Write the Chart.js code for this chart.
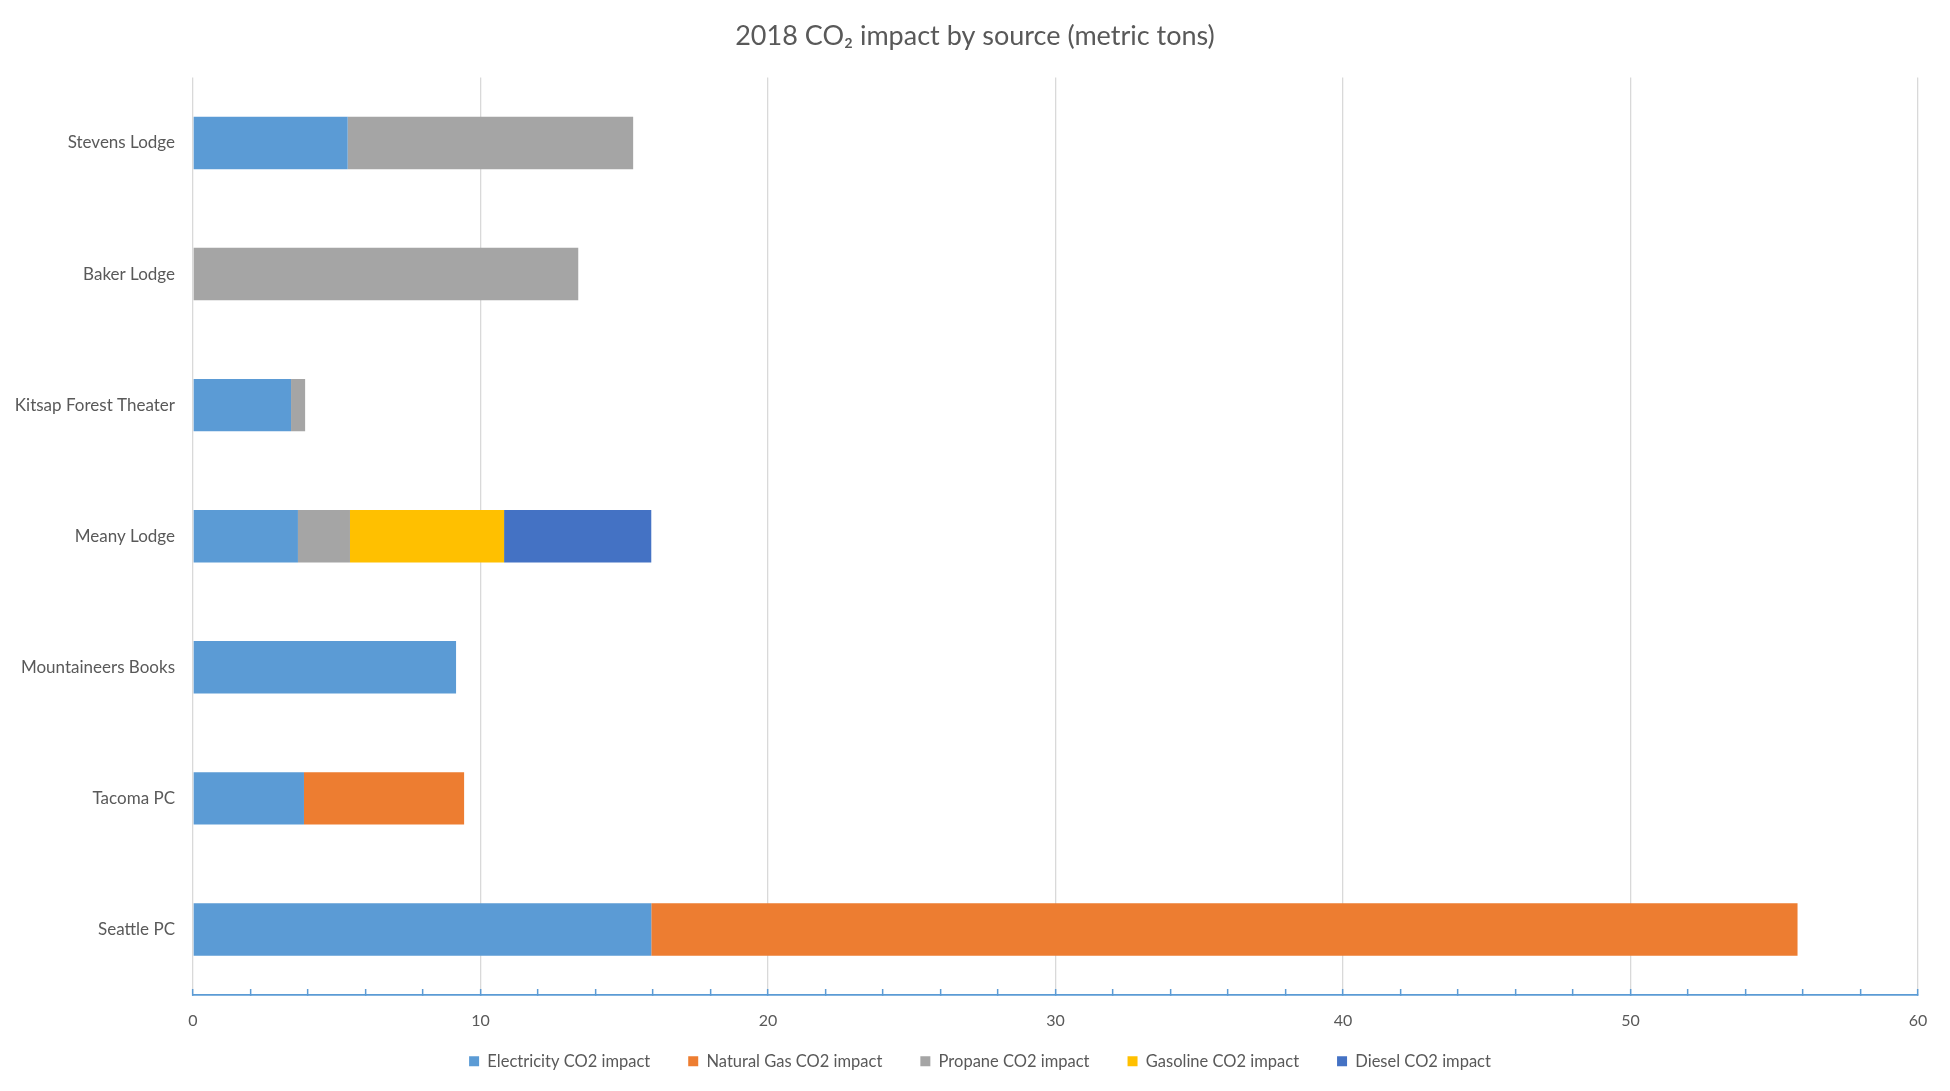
<!DOCTYPE html>
<html>
<head>
<meta charset="utf-8">
<title>2018 CO2 impact by source</title>
<script src="https://cdn.jsdelivr.net/npm/chart.js@4"></script>
<style>
  html, body { margin: 0; padding: 0; background: #fff; }
  #wrap { width: 1950px; height: 1091px; }
</style>
</head>
<body>
<div id="wrap"><canvas id="chart"></canvas></div>
<script>
// Sites, top to bottom
const sites = ['Stevens Lodge', 'Baker Lodge', 'Kitsap Forest Theater', 'Meany Lodge',
  'Mountaineers Books', 'Tacoma PC', 'Seattle PC'];

// metric tons per source
const electricity = [5.38, 0, 3.41, 3.65, 9.15, 3.86, 15.94];
const naturalGas  = [0, 0, 0, 0, 0, 5.57, 39.87];
const propane     = [9.93, 13.40, 0.49, 1.81, 0, 0, 0];
const gasoline    = [0, 0, 0, 5.36, 0, 0, 0];
const diesel      = [0, 0, 0, 5.12, 0, 0, 0];

const seriesNames = ['Electricity CO2 impact', 'Natural Gas CO2 impact', 'Propane CO2 impact',
  'Gasoline CO2 impact', 'Diesel CO2 impact'];
const seriesColors = ['#5B9BD5', '#ED7D31', '#A5A5A5', '#FFC000', '#4472C4'];
const seriesData = [electricity, naturalGas, propane, gasoline, diesel];

const textColor = '#595959';
const fontFamily = 'Lato, "Open Sans", sans-serif';

const datasets = seriesData.map((d, i) => ({
  label: seriesNames[i],
  data: d,
  backgroundColor: seriesColors[i],
  borderWidth: 0,
  barPercentage: 0.4,
  categoryPercentage: 1
}));

// Title and legend are centred on the whole canvas in the original,
// and the legend sits a bit closer to the axis labels
const nudge = {
  id: 'nudge',
  afterLayout(chart) {
    const t = chart.titleBlock;
    t.left += 16; t.right += 16;
    const l = chart.legend;
    l.left += 21; l.right += 21;
    l.top -= 20; l.bottom -= 20;
  }
};

const ctx = document.getElementById('chart').getContext('2d');
const myChart = new Chart(ctx, {
  type: 'bar',
  data: { labels: sites, datasets },
  plugins: [nudge],
  options: {
    indexAxis: 'y',
    responsive: true,
    maintainAspectRatio: false,
    animation: false,
    layout: { padding: { top: 0, right: 32, bottom: -8.5, left: 0 } },
    scales: {
      x: {
        stacked: true,
        min: 0,
        max: 60,
        afterFit: (scale) => { scale.height = 40; },
        ticks: {
          stepSize: 2,
          autoSkip: false,
          maxRotation: 0,
          padding: 22,
          color: textColor,
          font: { family: fontFamily, size: 16 },
          callback: (v) => (v % 10 === 0 ? v : '')
        },
        grid: {
          color: (c) => (c.tick && c.tick.value % 10 === 0 ? '#D9D9D9' : 'rgba(0,0,0,0)'),
          lineWidth: 1.3,
          drawTicks: true,
          tickLength: -6,
          tickColor: '#5B9BD5',
          tickWidth: 1.5
        },
        border: { display: true, color: '#5B9BD5', width: 1.7 }
      },
      y: {
        stacked: true,
        afterFit: (scale) => { scale.width = 193; },
        ticks: {
          padding: 10,
          color: textColor,
          font: { family: fontFamily, size: 17 }
        },
        grid: { display: false },
        border: { display: false }
      }
    },
    plugins: {
      title: {
        display: true,
        text: '2018 CO\u2082 impact by source (metric tons)',
        color: textColor,
        font: { family: fontFamily, size: 27, weight: 'normal' },
        padding: { top: 20, bottom: 25 }
      },
      legend: {
        position: 'bottom',
        labels: {
          boxWidth: 10,
          boxHeight: 10,
          padding: 38,
          color: textColor,
          font: { family: fontFamily, size: 16.5 }
        }
      },
      tooltip: { enabled: false }
    }
  }
});
</script>
</body>
</html>
